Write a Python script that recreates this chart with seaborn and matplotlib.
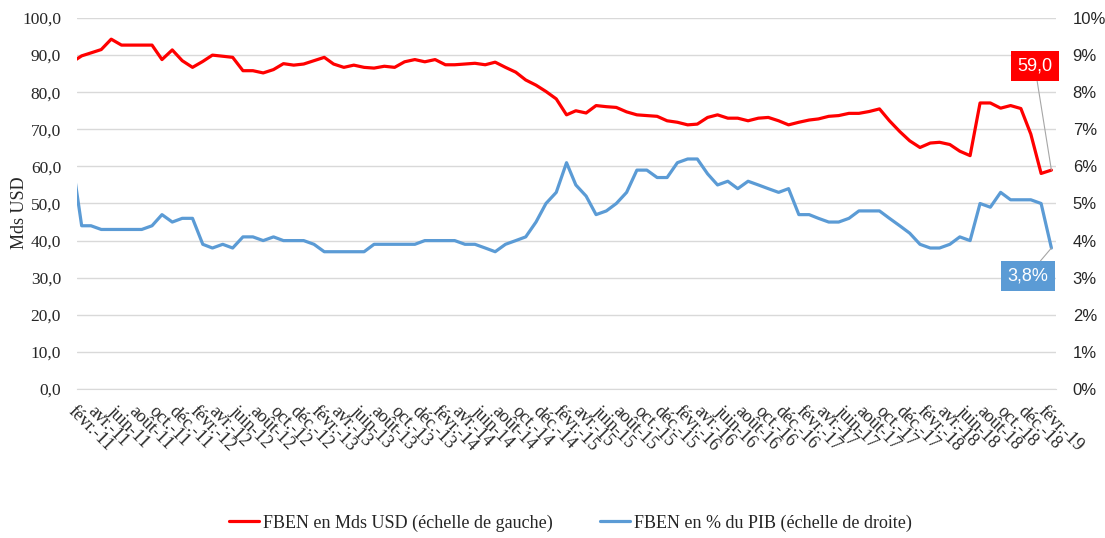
import pandas as pd
import numpy as np
import matplotlib
matplotlib.use("Agg")
import matplotlib.pyplot as plt
import matplotlib.ticker as mticker
from matplotlib.lines import Line2D
import seaborn as sns

sns.set_style("white")

# monthly points (mid-month), janv-11 .. févr-19 ; the first one sits left of the axis start
start_month = "2011-01-01"

fben_mds = [
    88.0, 89.8, 90.6, 91.5, 94.3, 92.7, 92.7, 92.7, 92.7, 88.8,
    91.4, 88.5, 86.7, 88.3, 90.0, 89.7, 89.4, 85.8, 85.8, 85.2,
    86.1, 87.7, 87.3, 87.6, 88.5, 89.4, 87.6, 86.7, 87.3, 86.7,
    86.5, 87.0, 86.7, 88.2, 88.8, 88.2, 88.8, 87.4, 87.4, 87.6,
    87.8, 87.4, 88.1, 86.7, 85.4, 83.3, 81.9, 80.2, 78.2, 73.9,
    75.0, 74.4, 76.4, 76.1, 75.9, 74.7, 73.9, 73.7, 73.5, 72.3,
    71.9, 71.2, 71.4, 73.2, 73.9, 73.0, 73.0, 72.3, 73.0, 73.2,
    72.3, 71.2, 71.9, 72.5, 72.8, 73.5, 73.7, 74.3, 74.3, 74.8,
    75.5, 72.3, 69.4, 66.9, 65.1, 66.3, 66.5, 65.9, 64.1, 62.9,
    77.1, 77.1, 75.7, 76.4, 75.6, 68.7, 58.1, 59.0,
]

fben_pib = [
    6.3, 4.4, 4.4, 4.3, 4.3, 4.3, 4.3, 4.3, 4.4, 4.7,
    4.5, 4.6, 4.6, 3.9, 3.8, 3.9, 3.8, 4.1, 4.1, 4.0,
    4.1, 4.0, 4.0, 4.0, 3.9, 3.7, 3.7, 3.7, 3.7, 3.7,
    3.9, 3.9, 3.9, 3.9, 3.9, 4.0, 4.0, 4.0, 4.0, 3.9,
    3.9, 3.8, 3.7, 3.9, 4.0, 4.1, 4.5, 5.0, 5.3, 6.1,
    5.5, 5.2, 4.7, 4.8, 5.0, 5.3, 5.9, 5.9, 5.7, 5.7,
    6.1, 6.2, 6.2, 5.8, 5.5, 5.6, 5.4, 5.6, 5.5, 5.4,
    5.3, 5.4, 4.7, 4.7, 4.6, 4.5, 4.5, 4.6, 4.8, 4.8,
    4.8, 4.6, 4.4, 4.2, 3.9, 3.8, 3.8, 3.9, 4.1, 4.0,
    5.0, 4.9, 5.3, 5.1, 5.1, 5.1, 5.0, 3.8,
]

mois = ["janv.", "févr.", "mars", "avr.", "mai", "juin",
        "juil.", "août", "sept.", "oct.", "nov.", "déc."]

label_mds = "FBEN en Mds USD (échelle de gauche)"
label_pib = "FBEN en % du PIB (échelle de droite)"

RED = "#FF0000"
BLUE = "#5B9BD5"
GRID = "#D9D9D9"
SERIF = "Liberation Serif"
SANS = "Liberation Sans"

dates = pd.date_range(start_month, periods=len(fben_mds), freq="MS") + pd.Timedelta(days=14)
df = pd.DataFrame({"date": dates, "mds": fben_mds, "pib": fben_pib})

fig = plt.figure(figsize=(11.05, 5.38), dpi=100)
ax = fig.add_axes([0.0697, 0.277, 0.886, 0.6895])
ax2 = ax.twinx()

sns.lineplot(data=df, x="date", y="mds", ax=ax, color=RED, lw=2.3, legend=False)
sns.lineplot(data=df, x="date", y="pib", ax=ax2, color=BLUE, lw=2.3, legend=False)

ax.set_xlim(pd.Timestamp("2011-02-01"), pd.Timestamp("2019-03-01"))
ax.set_ylim(0, 100)
ax2.set_ylim(0, 10)
ax.set_yticks(np.arange(0, 101, 10))
ax2.set_yticks(np.arange(0, 11, 1))
ax.yaxis.set_major_formatter(mticker.FuncFormatter(lambda v, p: f"{v:.1f}".replace(".", ",")))
ax2.yaxis.set_major_formatter(mticker.FuncFormatter(lambda v, p: f"{v:.0f}%"))

ax.yaxis.grid(True, color=GRID, lw=1)
ax.set_axisbelow(True)
for a in (ax, ax2):
    for s in ["top", "left", "right"]:
        a.spines[s].set_visible(False)
    a.spines["bottom"].set_color(GRID)
ax2.spines["bottom"].set_visible(False)

ticks = pd.date_range("2011-02-01", "2019-02-01", freq="2MS")
tick_labels = [f"{mois[t.month - 1]}-{t.year % 100:02d}" for t in ticks]
ax.set_xticks(ticks)
ax.set_xticklabels(tick_labels)
ax.tick_params(axis="x", length=5, color=GRID, width=1, pad=5)
for lbl in ax.get_xticklabels():
    lbl.set_rotation(-45)
    lbl.set_ha("left")
    lbl.set_va("top")
    lbl.set_rotation_mode("anchor")
    lbl.set_fontfamily(SERIF)
    lbl.set_fontsize(13)

ax.tick_params(axis="y", length=0, pad=11.5, labelsize=12.5)
for lbl in ax.get_yticklabels():
    lbl.set_fontfamily(SERIF)
ax2.tick_params(axis="y", length=0, pad=12, labelsize=12)
for lbl in ax2.get_yticklabels():
    lbl.set_fontfamily(SANS)

ax.set_xlabel("")
ax2.set_ylabel("")
ax.set_ylabel("Mds USD", fontsize=13, fontfamily=SERIF)
ax.yaxis.set_label_coords(-0.05, 0.474)

# data labels on the last point
last = df.iloc[-1]
ax.annotate(f"{last['mds']:.1f}".replace(".", ","), xy=(last["date"], last["mds"]),
            xytext=(-12, 75), textcoords="offset points", ha="center", va="center",
            color="white", fontsize=13, fontfamily=SANS,
            bbox=dict(boxstyle="square,pad=0.35", fc=RED, ec="none"),
            arrowprops=dict(arrowstyle="-", color="#A6A6A6", lw=0.8, shrinkA=0, shrinkB=0))
ax2.annotate(f"{last['pib']:.1f}%".replace(".", ","), xy=(last["date"], last["pib"]),
             xytext=(-17, -20), textcoords="offset points", ha="center", va="center",
             color="white", fontsize=13, fontfamily=SANS,
             bbox=dict(boxstyle="square,pad=0.35", fc=BLUE, ec="none"),
             arrowprops=dict(arrowstyle="-", color="#A6A6A6", lw=0.8, shrinkA=0, shrinkB=0))

handles = [Line2D([], [], color=RED, lw=2.3), Line2D([], [], color=BLUE, lw=2.3)]
fig.legend(handles, [label_mds, label_pib], loc="center", bbox_to_anchor=(0.516, 0.028),
           ncol=2, frameon=False, prop={"family": SERIF, "size": 13},
           handlelength=1.7, handletextpad=0.2, columnspacing=2.6)

fig.savefig("out.png", dpi=100)
